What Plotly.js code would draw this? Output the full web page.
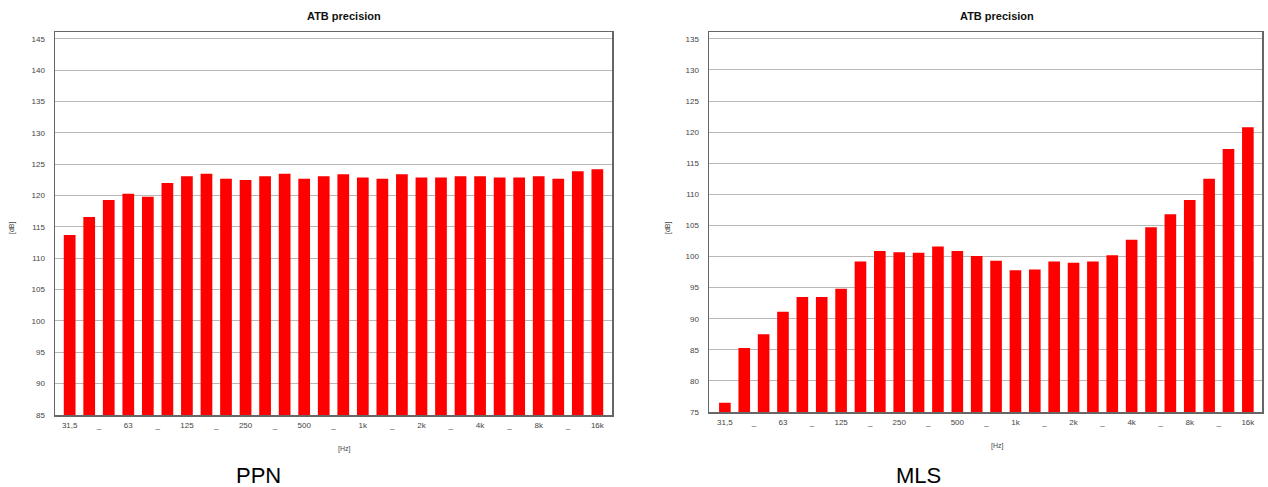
<!DOCTYPE html>
<html>
<head>
<meta charset="utf-8">
<script src="https://cdn.plot.ly/plotly-3.0.1.min.js"></script>
<style>
html,body{margin:0;padding:0;background:#fff;}
#chart{width:1268px;height:487px;}
</style>
</head>
<body>
<div id="chart"></div>
<script>
// Third-octave bands 31,5 Hz ... 16 kHz
const bands = ["31,5","40","50","63","80","100","125","160","200","250","315","400","500","630","800","1k","1,25k","1,6k","2k","2,5k","3,15k","4k","5k","6,3k","8k","10k","12,5k","16k"];
const ppnValues = [113.7,116.6,119.3,120.3,119.8,122.0,123.1,123.5,122.7,122.5,123.1,123.5,122.7,123.1,123.4,122.9,122.7,123.4,122.9,122.9,123.1,123.1,122.9,122.9,123.1,122.7,123.9,124.2];
const mlsValues = [76.5,85.3,87.5,91.1,93.5,93.5,94.8,99.2,100.9,100.7,100.6,101.6,100.9,100.1,99.3,97.8,97.9,99.2,99.0,99.2,100.2,102.7,104.7,106.8,109.1,112.5,117.3,120.8];
const tickLabels = ["31,5","_","63","_","125","_","250","_","500","_","1k","_","2k","_","4k","_","8k","_","16k"];
const chartTitle = "ATB precision";
const captions = ["PPN","MLS"];

const W = 1268, H = 487;
const px = x => x / W;
const py = y => 1 - y / H;

const idx = bands.map((_, i) => i);
const tickVals = tickLabels.map((_, i) => i * 1.5);

const barStyle = {type: 'bar', marker: {color: '#ff0000', line: {width: 0}}, width: 0.6, textposition: 'none', hoverinfo: 'text+y'};

const traces = [
  Object.assign({}, barStyle, {x: idx, y: ppnValues, xaxis: 'x', yaxis: 'y', hovertext: bands, name: captions[0]}),
  Object.assign({}, barStyle, {x: idx, y: mlsValues, xaxis: 'x2', yaxis: 'y2', hovertext: bands, name: captions[1]})
];

const tickFont = {family: 'Arial, Liberation Sans, sans-serif', size: 8, color: '#444'};

function xAxis(domain, range) {
  return {
    domain: domain, range: range,
    tickvals: tickVals, ticktext: tickLabels, tickfont: tickFont,
    showgrid: false, zeroline: false, ticks: '',
    showline: true, mirror: true, linecolor: '#666', linewidth: 1.5,
    ticklabelstandoff: 2, fixedrange: true
  };
}
function yAxis(domain, range, lo, hi) {
  const tv = [];
  for (let v = lo; v <= hi; v += 5) tv.push(v);
  return {
    domain: domain, range: range, tickvals: tv, tickfont: tickFont,
    showgrid: true, gridcolor: '#b8b8b8', gridwidth: 1, zeroline: false, ticks: '',
    showline: true, mirror: true, linecolor: '#666', linewidth: 1.5,
    ticklabelstandoff: 7, fixedrange: true
  };
}

const xa = xAxis([px(55), px(612)], [-0.75, 27.75]); xa.anchor = 'y';
const xa2 = xAxis([px(709), px(1262)], [-0.82, 27.73]); xa2.anchor = 'y2';
const ya = yAxis([py(415), py(32)], [85, 146.1], 85, 145); ya.anchor = 'x';
const ya2 = yAxis([py(412), py(32)], [75, 136.1], 75, 135); ya2.anchor = 'x2';

const titleFont = {family: 'Arial, Liberation Sans, sans-serif', size: 11, color: '#111'};
const smallFont = {family: 'Arial, Liberation Sans, sans-serif', size: 7, color: '#444'};
const capFont = {family: 'Arial, Liberation Sans, sans-serif', size: 22, color: '#000'};

function ann(text, x, y, font, extra) {
  return Object.assign({text: text, x: px(x), y: py(y), xref: 'paper', yref: 'paper', showarrow: false, xanchor: 'center', yanchor: 'middle', font: font}, extra || {});
}

const annotations = [
  ann('<b>' + chartTitle + '</b>', 344, 16, titleFont),
  ann('<b>' + chartTitle + '</b>', 997, 16, titleFont),
  ann('[dB]', 12, 228, smallFont, {textangle: -90}),
  ann('[dB]', 668, 228, smallFont, {textangle: -90}),
  ann('[Hz]', 345, 449, smallFont),
  ann('[Hz]', 997, 446, smallFont),
  ann(captions[0], 258, 475, capFont),
  ann(captions[1], 918, 475, capFont)
];

const layout = {
  width: W, height: H,
  margin: {l: 0, r: 0, t: 0, b: 0},
  paper_bgcolor: '#ffffff', plot_bgcolor: '#ffffff',
  showlegend: false, bargap: 0.4,
  xaxis: xa, yaxis: ya, xaxis2: xa2, yaxis2: ya2,
  annotations: annotations
};

Plotly.newPlot('chart', traces, layout, {displayModeBar: false, staticPlot: true});
</script>
</body>
</html>
